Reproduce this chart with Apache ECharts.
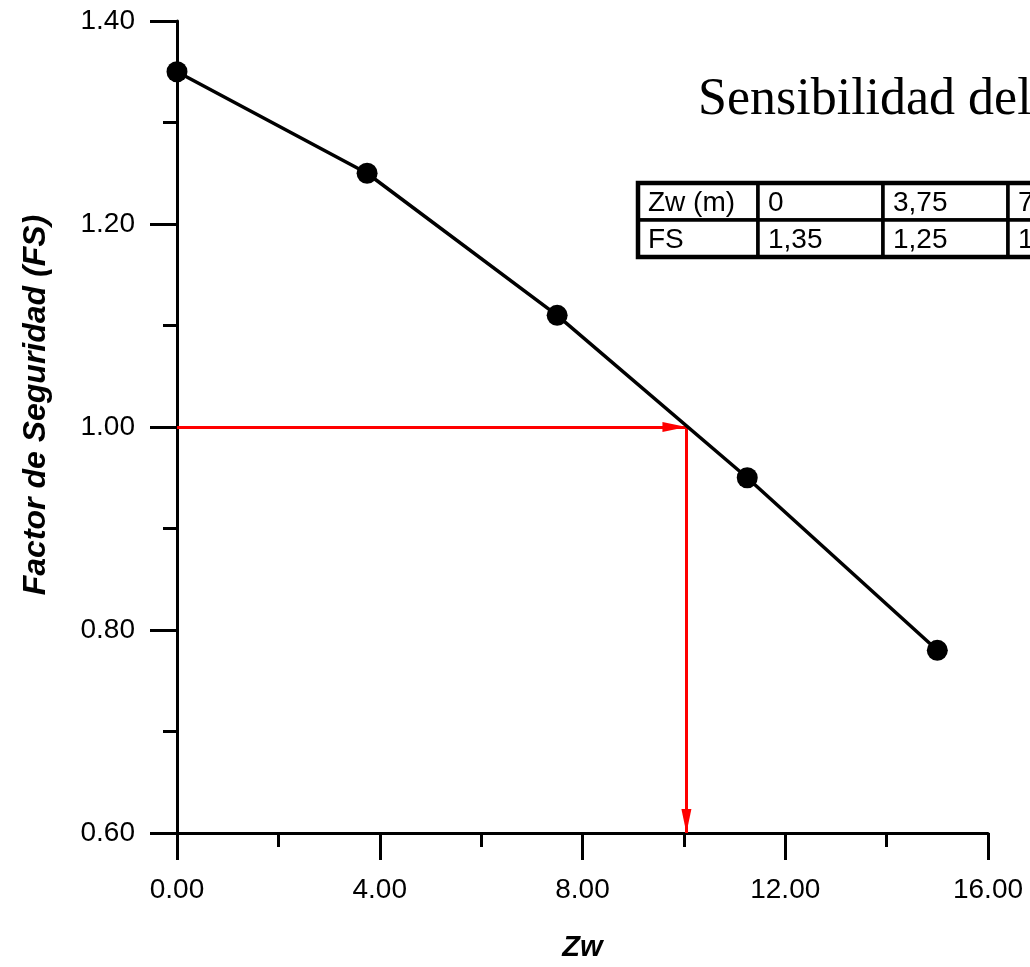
<!DOCTYPE html>
<html>
<head>
<meta charset="utf-8">
<style>
  html, body { margin: 0; padding: 0; background: #ffffff; }
  #chart { width: 1030px; height: 967px; }
</style>
<script src="https://cdn.jsdelivr.net/npm/echarts@6/dist/echarts.min.js"></script>
</head>
<body>
<div id="chart"></div>
<script>
// Water table depth Zw (m) and resulting factor of safety FS
const zwValues = [0, 3.75, 7.5, 11.25, 15];
const fsValues = [1.35, 1.25, 1.11, 0.95, 0.78];

// Reading of the critical depth where FS = 1.00
const criticalFS = 1.00;
const criticalZw = 10.05;

const titleText = 'Sensibilidad del FS';
const xName = 'Zw';
const yName = 'Factor de Seguridad (FS)';
const tableRowNames = ['Zw (m)', 'FS'];

const fmt = v => String(v).replace('.', ',');

const chart = echarts.init(document.getElementById('chart'), null, { renderer: 'canvas' });

const gridLeft = 177, gridTop = 21, gridRight = 42, gridBottom = 134;
const sans = '"Liberation Sans", Arial, sans-serif';

// Data table drawn as graphic cells
function buildTable() {
  const x0 = 638, y0 = 183;
  const firstW = 120, colW = 125, rowH = 37;
  const rows = [
    [tableRowNames[0]].concat(zwValues.map(fmt)),
    [tableRowNames[1]].concat(fsValues.map(fmt))
  ];
  const els = [];
  rows.forEach((row, r) => {
    let cx = x0;
    row.forEach((cell, c) => {
      const w = c === 0 ? firstW : colW;
      els.push({
        type: 'rect',
        shape: { x: cx, y: y0 + r * rowH, width: w, height: rowH },
        style: { fill: '#ffffff', stroke: '#000000', lineWidth: 3.5 },
        z: 10
      });
      els.push({
        type: 'text',
        x: cx + 10, y: y0 + r * rowH + rowH / 2 + 2,
        style: {
          text: cell, fill: '#000000',
          font: '28px ' + sans,
          verticalAlign: 'middle', align: 'left'
        },
        z: 11
      });
      cx += w;
    });
  });
  // thicker outer frame
  els.push({
    type: 'rect',
    shape: { x: x0, y: y0, width: firstW + colW * zwValues.length, height: rowH * 2 },
    style: { fill: 'none', stroke: '#000000', lineWidth: 4.5 },
    z: 12
  });
  return els;
}

const axisStyle = { color: '#000', width: 3 };

const option = {
  animation: false,
  backgroundColor: '#ffffff',
  grid: { left: gridLeft, top: gridTop, right: gridRight, bottom: gridBottom, containLabel: false },
  graphic: [
    {
      type: 'text',
      x: 698, y: 100,
      style: {
        text: titleText, fill: '#000000',
        font: '52px "Liberation Serif", "Times New Roman", serif',
        verticalAlign: 'middle', align: 'left'
      },
      z: 10
    }
  ].concat(buildTable()),
  xAxis: {
    type: 'value',
    min: 0, max: 16, interval: 4,
    name: xName,
    nameLocation: 'middle',
    nameGap: 100,
    nameTextStyle: { fontFamily: sans, fontSize: 29, fontWeight: 'bold', fontStyle: 'italic', color: '#000' },
    axisLine: { show: true, onZero: false, lineStyle: axisStyle },
    axisTick: { show: true, inside: false, length: 27, lineStyle: axisStyle },
    minorTick: { show: true, splitNumber: 2, length: 14, lineStyle: axisStyle },
    splitLine: { show: false },
    axisLabel: {
      margin: 43, fontSize: 28, color: '#000', fontFamily: sans,
      formatter: v => v.toFixed(2)
    }
  },
  yAxis: {
    type: 'value',
    min: 0.6, max: 1.4, interval: 0.2,
    name: yName,
    nameLocation: 'middle',
    nameGap: 125,
    nameTextStyle: { fontFamily: sans, fontSize: 32, fontWeight: 'bold', fontStyle: 'italic', color: '#000', padding: [0, 0, 0, 44] },
    axisLine: { show: true, onZero: false, lineStyle: axisStyle },
    axisTick: { show: true, inside: false, length: 27, lineStyle: axisStyle },
    minorTick: { show: true, splitNumber: 2, length: 14, lineStyle: axisStyle },
    splitLine: { show: false },
    axisLabel: {
      margin: 42, fontSize: 28, color: '#000', fontFamily: sans,
      formatter: v => v.toFixed(2)
    }
  },
  series: [
    {
      type: 'line',
      data: zwValues.map((z, i) => [z, fsValues[i]]),
      symbol: 'circle',
      symbolSize: 21,
      showSymbol: true,
      clip: false,
      lineStyle: { color: '#000', width: 3.5 },
      itemStyle: { color: '#000' },
      z: 5,
      markLine: {
        silent: true,
        symbol: ['none', 'triangle'],
        symbolSize: [10, 24],
        label: { show: false },
        emphasis: { disabled: true },
        lineStyle: { color: '#ff0000', width: 3, type: 'solid' },
        data: [
          [{ coord: [0, criticalFS] }, { coord: [criticalZw, criticalFS], symbolOffset: [0, 12] }],
          [{ coord: [criticalZw, criticalFS] }, { coord: [criticalZw, 0.6], symbolOffset: [0, 12] }]
        ]
      }
    }
  ]
};

chart.setOption(option);
</script>
</body>
</html>
